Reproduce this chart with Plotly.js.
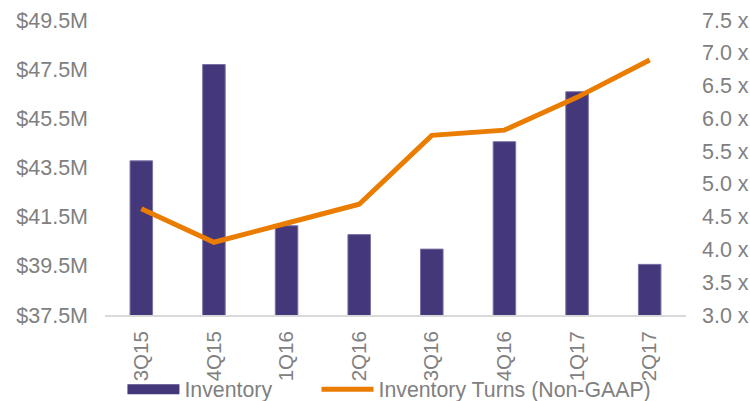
<!DOCTYPE html>
<html><head><meta charset="utf-8">
<script src="https://cdn.plot.ly/plotly-3.0.1.min.js"></script>
<style>html,body{margin:0;padding:0;background:#fff}</style>
</head><body>
<div id="chart" style="width:750px;height:401px"></div>
<script>
const quarters = ["3Q15","4Q15","1Q16","2Q16","3Q16","4Q16","1Q17","2Q17"];
const inventory = [43.77, 47.69, 41.13, 40.77, 40.18, 44.55, 46.58, 39.56];
const turns = [4.62, 4.11, 4.40, 4.69, 5.74, 5.82, 6.32, 6.89];
const leftTicks = [37.5, 39.5, 41.5, 43.5, 45.5, 47.5, 49.5];
const rightTicks = [3.0, 3.5, 4.0, 4.5, 5.0, 5.5, 6.0, 6.5, 7.0, 7.5];

const grey = "#808080";
const purple = "#44377A";
const orange = "#EA7D00";
const tickFont = {family: "Liberation Sans, Arial, sans-serif", size: 21.5, color: grey};
const xTickFont = {family: "Liberation Sans, Arial, sans-serif", size: 20.5, color: grey};
const legFont = {family: "Liberation Sans, Arial, sans-serif", size: 21.3, color: grey};

const data = [
  {type: "bar", name: "Inventory", x: quarters, y: inventory, yaxis: "y", showlegend: false,
   marker: {color: purple, line: {color: "#7a70a6", width: 1}}, width: 0.31},
  {type: "scatter", mode: "lines", name: "Inventory Turns (Non-GAAP)", x: quarters, y: turns, yaxis: "y2",
   line: {color: orange, width: 5}, legend: "legend2"},
  // legend-only entry for the bars (wide swatch like the original)
  {type: "scatter", mode: "lines", name: "Inventory", x: [null], y: [null], yaxis: "y",
   line: {color: purple, width: 11}, legend: "legend", hoverinfo: "skip"}
];

const legBase = {orientation: "h", xanchor: "left", y: -0.252, yanchor: "middle",
                 font: legFont, itemwidth: 52, bgcolor: "rgba(0,0,0,0)"};

const layout = {
  width: 750, height: 401,
  margin: {l: 105, r: 64, t: 20, b: 86, autoexpand: false},
  paper_bgcolor: "#fff", plot_bgcolor: "#fff",
  font: tickFont,
  showlegend: true,
  legend: Object.assign({}, legBase, {x: 0.03}),
  legend2: Object.assign({}, legBase, {x: 0.364}),
  xaxis: {type: "category", tickangle: -90, showgrid: false, zeroline: false, automargin: false,
          showline: true, linecolor: "#d9d9d9", linewidth: 2, ticks: "",
          tickfont: xTickFont, ticklabelstandoff: 6},
  yaxis: {range: [37.5, 49.5], tickvals: leftTicks, automargin: false,
          ticktext: leftTicks.map(v => "$" + v.toFixed(1) + "M"),
          showgrid: false, zeroline: false, showline: false, ticks: "",
          tickfont: tickFont, ticklabelstandoff: 16},
  yaxis2: {range: [3, 7.5], overlaying: "y", side: "right", tickvals: rightTicks, automargin: false,
           ticktext: rightTicks.map(v => v.toFixed(1) + " x"),
           showgrid: false, zeroline: false, showline: false, ticks: "",
           tickfont: tickFont, ticklabelstandoff: 15}
};

Plotly.newPlot("chart", data, layout, {displayModeBar: false, staticPlot: true});
</script>
</body></html>
